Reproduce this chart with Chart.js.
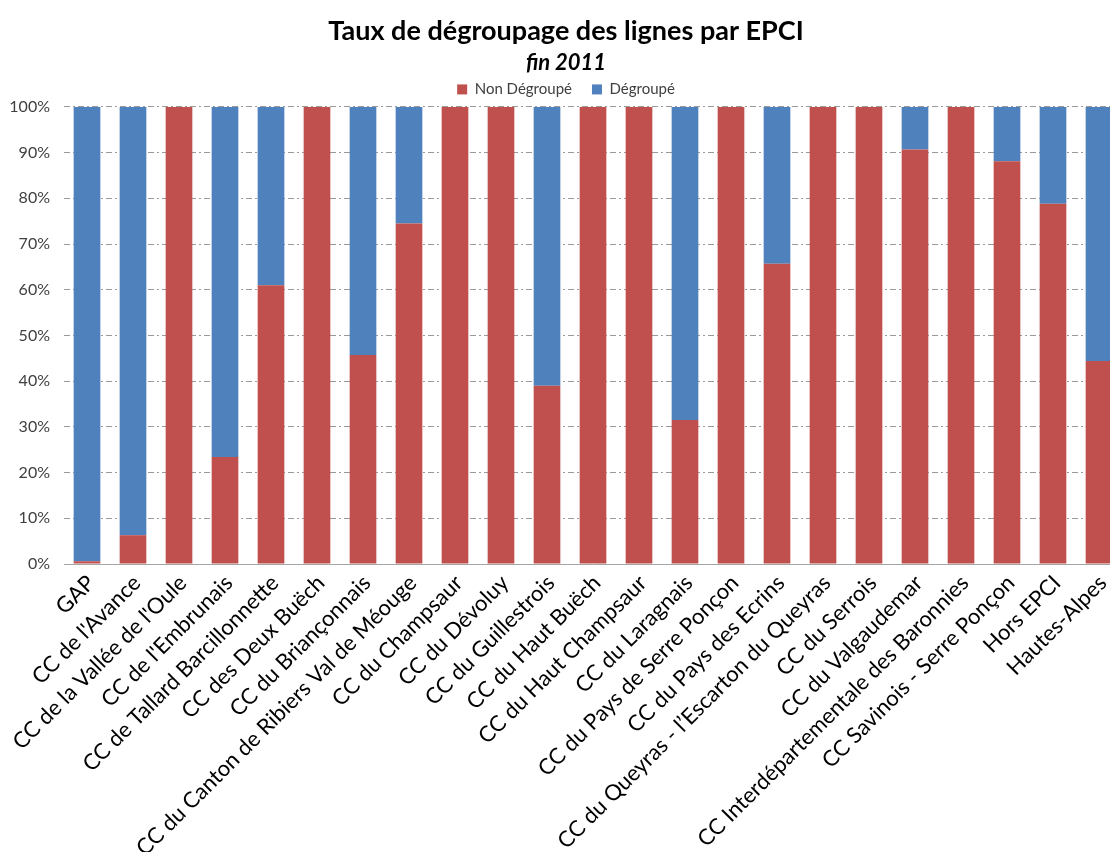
<!DOCTYPE html>
<html>
<head>
<meta charset="utf-8">
<script src="https://cdn.jsdelivr.net/npm/chart.js@4"></script>
<style>
  html, body { margin: 0; padding: 0; background: #fff; overflow: hidden; }
  #wrap { width: 1125px; height: 852px; position: relative; }
</style>
</head>
<body>
<div id="wrap"><canvas id="c" width="1125" height="852"></canvas></div>
<script>
const categories = [
  "GAP", "CC de l'Avance", "CC de la Vallée de l'Oule", "CC de l'Embrunais",
  "CC de Tallard Barcillonnette", "CC des Deux Buëch", "CC du Briançonnais",
  "CC du Canton de Ribiers Val de Méouge", "CC du Champsaur", "CC du Dévoluy",
  "CC du Guillestrois", "CC du Haut Buëch", "CC du Haut Champsaur", "CC du Laragnais",
  "CC du Pays de Serre Ponçon", "CC du Pays des Ecrins", "CC du Queyras - l’Escarton du Queyras",
  "CC du Serrois", "CC du Valgaudemar", "CC Interdépartementale des Baronnies",
  "CC Savinois - Serre Ponçon", "Hors EPCI", "Hautes-Alpes"
];
const nonDegroupe = [0.6, 6.3, 100, 23.4, 61.0, 100, 45.7, 74.5, 100, 100, 39.0, 100, 100, 31.5, 100, 65.7, 100, 100, 90.7, 100, 88.1, 78.8, 44.4];
const degroupe    = [99.4, 93.7, 0, 76.6, 39.0, 0, 54.3, 25.5, 0, 0, 61.0, 0, 0, 68.5, 0, 34.3, 0, 0, 9.3, 0, 11.9, 21.2, 55.6];
const yTicks = [0, 10, 20, 30, 40, 50, 60, 70, 80, 90, 100];
const seriesNames = ["Non Dégroupé", "Dégroupé"];
const titleText = "Taux de dégroupage des lignes par EPCI";
const subtitleText = "fin 2011";

const FONT = "Lato, 'Open Sans', sans-serif";

new Chart(document.getElementById('c'), {
  type: 'bar',
  data: {
    labels: categories,
    datasets: [
      { label: seriesNames[0], data: nonDegroupe, backgroundColor: '#C0504D', borderWidth: 0, stack: 's' },
      { label: seriesNames[1], data: degroupe, backgroundColor: '#4F81BD', borderWidth: 0, stack: 's' }
    ]
  },
  options: {
    responsive: false,
    animation: false,
    layout: { padding: { left: 10, right: 3, top: 0, bottom: 0 } },
    datasets: { bar: { categoryPercentage: 1, barPercentage: 0.58 } },
    plugins: {
      title: {
        display: true, text: titleText, color: '#000',
        font: { family: FONT, size: 27, weight: 'bold', lineHeight: 1.2 },
        padding: { top: 15, bottom: 0 }
      },
      subtitle: {
        display: true, text: subtitleText, color: '#000',
        font: { family: FONT, size: 22, weight: 'bold', style: 'italic', lineHeight: 1.16 },
        padding: { top: 3, bottom: -14 }
      },
      legend: {
        display: true, position: 'top',
        labels: {
          color: '#404040', boxWidth: 10, boxHeight: 10, padding: 20,
          font: { family: FONT, size: 15 }
        }
      },
      tooltip: { enabled: false }
    },
    scales: {
      x: {
        stacked: true,
        grid: { display: false, drawTicks: false },
        border: { display: true, color: '#A6A6A6', width: 1 },
        ticks: {
          color: '#000', maxRotation: 45, minRotation: 45, autoSkip: false,
          padding: 6, labelOffset: 4, font: { family: FONT, size: 22 }
        },
        afterFit: (s) => { s.height = 288; }
      },
      y: {
        stacked: true, min: 0, max: 100,
        afterBuildTicks: (s) => { s.ticks = yTicks.map(v => ({ value: v })); },
        grid: { color: '#9A9A9A', lineWidth: 1, drawTicks: false },
        border: { display: false, dash: [6, 3, 2, 3] },
        ticks: {
          color: '#404040', padding: 14,
          font: { family: FONT, size: 16 },
          callback: (v) => v + '%'
        },
        afterFit: (s) => { s.width = 54; }
      }
    }
  }
});
</script>
</body>
</html>
